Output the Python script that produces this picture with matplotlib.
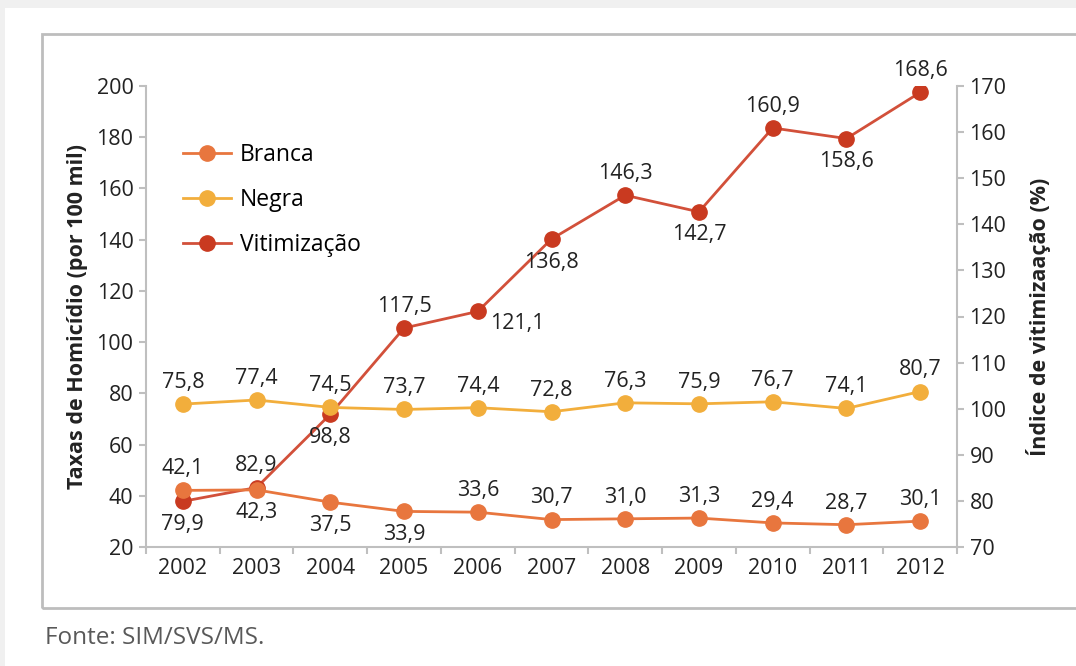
import matplotlib.pyplot as plt
from matplotlib.patches import Rectangle

plt.rcParams['font.family'] = ['Open Sans', 'DejaVu Sans']

anos = ['2002', '2003', '2004', '2005', '2006', '2007', '2008', '2009', '2010', '2011', '2012']
branca = [42.1, 42.3, 37.5, 33.9, 33.6, 30.7, 31.0, 31.3, 29.4, 28.7, 30.1]
negra = [75.8, 77.4, 74.5, 73.7, 74.4, 72.8, 76.3, 75.9, 76.7, 74.1, 80.7]
vitimizacao = [79.9, 82.9, 98.8, 117.5, 121.1, 136.8, 146.3, 142.7, 160.9, 158.6, 168.6]

# where each value label goes: 'a' above, 'b' below, 'r' right
pos_branca = ['a', 'b', 'b', 'b', 'a', 'a', 'a', 'a', 'a', 'a', 'a']
pos_negra = ['a'] * 11
pos_vit = ['b', 'a', 'b', 'a', 'r', 'b', 'a', 'b', 'a', 'b', 'a']

c_branca = '#E8763E'
c_negra = '#F2AE3C'
c_vit = '#C93A20'
c_vit_line = '#D2503A'
axis_gray = '#BFBFBF'
txt_col = '#222222'

fig = plt.figure(figsize=(10.76, 6.66), dpi=100)
fig.patch.set_facecolor('#F0F0F0')
fig.patches.append(Rectangle((5 / 1076, 0), 1, 1 - 8 / 666, transform=fig.transFigure,
                             facecolor='white', edgecolor='none', zorder=-2))
fig.patches.append(Rectangle((42 / 1076, 1 - 608 / 666), 1.1, (608 - 34) / 666,
                             transform=fig.transFigure, facecolor='none',
                             edgecolor='#BDBDBD', linewidth=2, zorder=-1))

ax = fig.add_axes([146 / 1076, 1 - 547 / 666, (957 - 146) / 1076, (547 - 86) / 666])
ax2 = ax.twinx()
x = range(len(anos))


def label(axis, xs, ys, where):
    for xi, yi, w in zip(xs, ys, where):
        txt = f'{yi:.1f}'.replace('.', ',')
        if w == 'a':
            axis.annotate(txt, (xi, yi), xytext=(0, 8), textcoords='offset points',
                          ha='center', va='bottom', fontsize=15.5, color=txt_col)
        elif w == 'b':
            axis.annotate(txt, (xi, yi), xytext=(0, -9), textcoords='offset points',
                          ha='center', va='top', fontsize=15.5, color=txt_col)
        else:
            axis.annotate(txt, (xi, yi), xytext=(9, -1), textcoords='offset points',
                          ha='left', va='top', fontsize=15.5, color=txt_col)


l1, = ax.plot(x, branca, color=c_branca, marker='o', markersize=11, linewidth=2, label='Branca', zorder=3)
l2, = ax.plot(x, negra, color=c_negra, marker='o', markersize=11, linewidth=2, label='Negra', zorder=3)
l3, = ax2.plot(x, vitimizacao, color=c_vit_line, marker='o', markersize=11, linewidth=2,
               markerfacecolor=c_vit, markeredgecolor=c_vit, label='Vitimização', zorder=2)
label(ax, x, branca, pos_branca)
label(ax, x, negra, pos_negra)
label(ax2, x, vitimizacao, pos_vit)

ax.set_zorder(ax2.get_zorder() + 1)
ax.patch.set_visible(False)

ax.set_xlim(-0.5, 10.5)
ax.set_ylim(20, 200)
ax2.set_ylim(70, 170)
ax.set_yticks(range(20, 201, 20))
ax2.set_yticks(range(70, 171, 10))
ax.set_xticks(list(x))
ax.set_xticklabels(anos)
ax.set_xticks([i + 0.5 for i in range(-1, 11)], minor=True)

for a in (ax, ax2):
    for s in a.spines.values():
        s.set_visible(False)
    a.tick_params(axis='y', colors=axis_gray, labelcolor=txt_col, labelsize=15.5,
                  length=5, width=1.5, pad=4)
ax.spines['left'].set_visible(True)
ax.spines['bottom'].set_visible(True)
ax2.spines['right'].set_visible(True)
for s in (ax.spines['left'], ax.spines['bottom'], ax2.spines['right']):
    s.set_color(axis_gray)
    s.set_linewidth(1.5)
ax.tick_params(axis='x', which='major', length=0, labelsize=15.5, labelcolor=txt_col, pad=8)
ax.tick_params(axis='x', which='minor', length=5, width=1.5, color=axis_gray)

ax.set_ylabel('Taxas de Homicídio (por 100 mil)', fontsize=15.5, fontweight='bold',
              color=txt_col, labelpad=6)
ax2.set_ylabel('Índice de vitimizaação (%)', fontsize=15.5, fontweight='bold',
               color=txt_col, labelpad=14)

ax.legend(handles=[l1, l2, l3], loc='upper left', bbox_to_anchor=(0.02, 0.922), frameon=False,
          fontsize=16.5, labelspacing=0.92, handlelength=2.1, handletextpad=0.4)

fig.text(45 / 1076, 1 - 638 / 666, 'Fonte: SIM/SVS/MS.', fontsize=17.5, color='#595959',
         va='center', ha='left')

fig.savefig('out.png', dpi=100, facecolor=fig.get_facecolor())
